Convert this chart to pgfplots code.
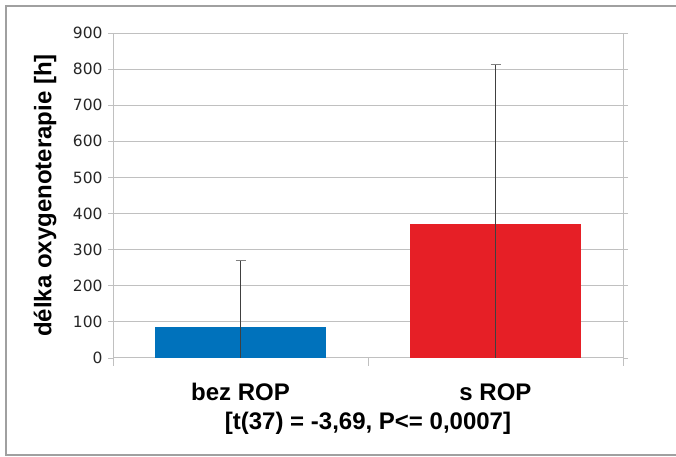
\documentclass[border=0pt]{standalone}
\usepackage{pgfplots}
\pgfplotsset{compat=1.18}
\usepackage{fontspec}
\setmainfont{Liberation Sans}
\newfontfamily\tickfont{DejaVu Sans}
\definecolor{barblue}{RGB}{0,114,188}
\definecolor{barred}{RGB}{230,31,38}
\definecolor{gridgray}{RGB}{192,192,192}
\definecolor{framegray}{RGB}{160,160,160}
\begin{document}
\begin{tikzpicture}
\useasboundingbox (0,0) rectangle (676bp,457bp);
\draw[framegray, line width=1.5bp] (6bp,2bp) rectangle (700bp,451bp);
\begin{axis}[
  at={(113bp,99bp)}, anchor=south west,
  width=510bp, height=325bp, scale only axis,
  xmin=-0.5, xmax=1.5, ymin=0, ymax=900,
  ytick={0,100,...,900},
  xtick={0,1}, xticklabels={bez ROP, s ROP},
  minor xtick={-0.5,0.5,1.5},
  major x tick style={draw=none},
  tick align=outside,
  major tick length=5bp, minor tick length=8bp,
  tick style={gridgray, line width=0.8bp},
  ymajorgrids, grid style={gridgray, line width=1bp},
  axis line style={gridgray, line width=1bp},
  axis x line*=bottom,
  /pgf/number format/assume math mode=true,
  yticklabel style={font=\tickfont\fontsize{15.5bp}{17bp}\selectfont, text=black!85, xshift=-2bp},
  xticklabel style={font=\bfseries\fontsize{24bp}{28bp}\selectfont, yshift=-17bp},
  xlabel={[t(37) = -3,69, P<= 0,0007]},
  xlabel style={font=\bfseries\fontsize{24bp}{28bp}\selectfont, yshift=-4bp},
  ylabel={délka oxygenoterapie [h]},
  ylabel style={font=\bfseries\fontsize{24bp}{27bp}\selectfont, at={(axis description cs:-0.133,0.5)}, anchor=center},
  ybar, bar width=171bp,
  clip=true,
]
\addplot[draw=none, fill=barblue, bar shift=0pt,
  error bars/.cd, y dir=both, y explicit,
  error bar style={black!75, line width=1bp},
  error mark options={black!50, line width=1bp, mark size=5bp, rotate=90}]
  coordinates {(0,85) +- (0,185)};
\addplot[draw=none, fill=barred, bar shift=0pt,
  error bars/.cd, y dir=both, y explicit,
  error bar style={black!75, line width=1bp},
  error mark options={black!50, line width=1bp, mark size=5bp, rotate=90}]
  coordinates {(1,371) +- (0,443)};
\draw[gridgray, line width=1bp] (rel axis cs:1,0) -- (rel axis cs:1,1);
\end{axis}
\end{tikzpicture}
\end{document}
